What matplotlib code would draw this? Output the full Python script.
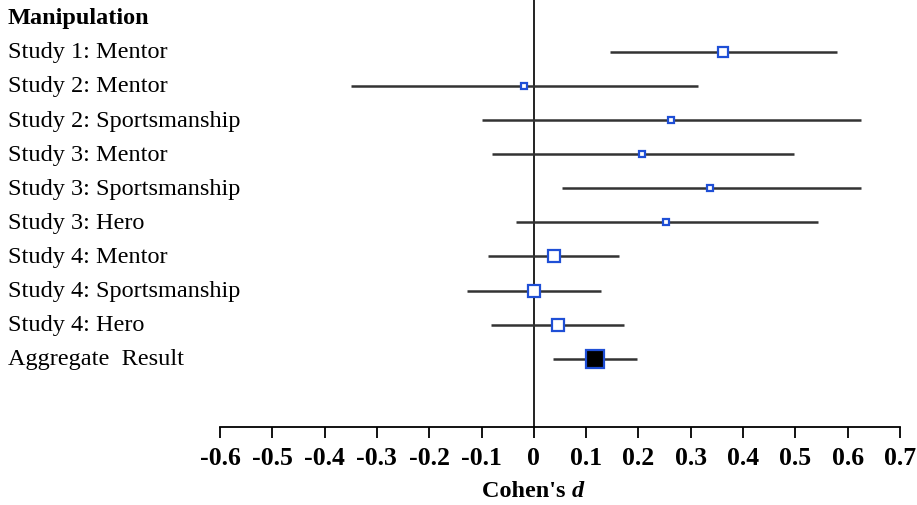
"""
Forest plot of Cohen's d by manipulation, with 95% CIs.
"""

import matplotlib

matplotlib.use("Agg")
import matplotlib.pyplot as plt
import matplotlib.transforms as mtransforms

labels = [
    "Study 1: Mentor",
    "Study 2: Mentor",
    "Study 2: Sportsmanship",
    "Study 3: Mentor",
    "Study 3: Sportsmanship",
    "Study 3: Hero",
    "Study 4: Mentor",
    "Study 4: Sportsmanship",
    "Study 4: Hero",
    "Aggregate  Result",
]
d_values = [0.361, -0.019, 0.262, 0.206, 0.337, 0.252, 0.038, 0.0, 0.046, 0.117]
ci_low = [0.145, -0.349, -0.099, -0.080, 0.054, -0.034, -0.088, -0.128, -0.082, 0.036]
ci_high = [0.579, 0.314, 0.625, 0.497, 0.625, 0.543, 0.162, 0.128, 0.172, 0.197]
ticks = [-0.6, -0.5, -0.4, -0.3, -0.2, -0.1, 0, 0.1, 0.2, 0.3, 0.4, 0.5, 0.6, 0.7]
tick_labels = ["-0.6", "-0.5", "-0.4", "-0.3", "-0.2", "-0.1", "0",
               "0.1", "0.2", "0.3", "0.4", "0.5", "0.6", "0.7"]

BLUE = "#1f4fd6"
LINE = "#333333"
MARKER_SIZES = [6.5, 5, 5, 5, 5, 5, 8, 8, 8, 13]


def main() -> None:
    plt.rcParams["font.family"] = "Liberation Serif"
    fig = plt.figure(figsize=(9.17, 5.06), dpi=100)
    ax = fig.add_axes([220 / 917, 78 / 506, 680 / 917, 428 / 506])

    for i in range(len(labels)):
        ax.plot([ci_low[i], ci_high[i]], [i, i], color=LINE, lw=1.8,
                solid_capstyle="butt", zorder=2)
        face = "black" if i == len(labels) - 1 else "white"
        ax.plot(d_values[i], i, marker="s", ms=MARKER_SIZES[i],
                mfc=face, mec=BLUE, mew=1.6, zorder=4)

    ax.axvline(0, color="#222222", lw=1.4, zorder=1)

    ax.set_xlim(-0.6, 0.7)
    ax.set_ylim(11.0, -1.55)
    for side in ["top", "right", "left"]:
        ax.spines[side].set_visible(False)
    ax.spines["bottom"].set_linewidth(1.3)
    ax.set_yticks([])
    ax.set_xticks(ticks)
    ax.set_xticklabels(tick_labels, fontsize=18.5, fontweight="bold")
    ax.tick_params(axis="x", length=8, width=1.3, pad=6)

    fig.text(572 / 917, 14 / 506, "Cohen's ", fontsize=17.5, fontweight="bold",
             ha="right", va="center")
    fig.text(572 / 917, 14 / 506, "d", fontsize=17.5, fontweight="bold",
             style="italic", ha="left", va="center")

    trans = mtransforms.blended_transform_factory(fig.transFigure, ax.transData)
    ax.text(8 / 917, -1.0, "Manipulation", transform=trans, fontsize=17.5,
            fontweight="bold", ha="left", va="center", clip_on=False)
    for i, lab in enumerate(labels):
        ax.text(8 / 917, i, lab, transform=trans, fontsize=17.5,
                ha="left", va="center", clip_on=False)

    fig.savefig("out.png", dpi=100)
    plt.close(fig)


if __name__ == "__main__":
    main()
